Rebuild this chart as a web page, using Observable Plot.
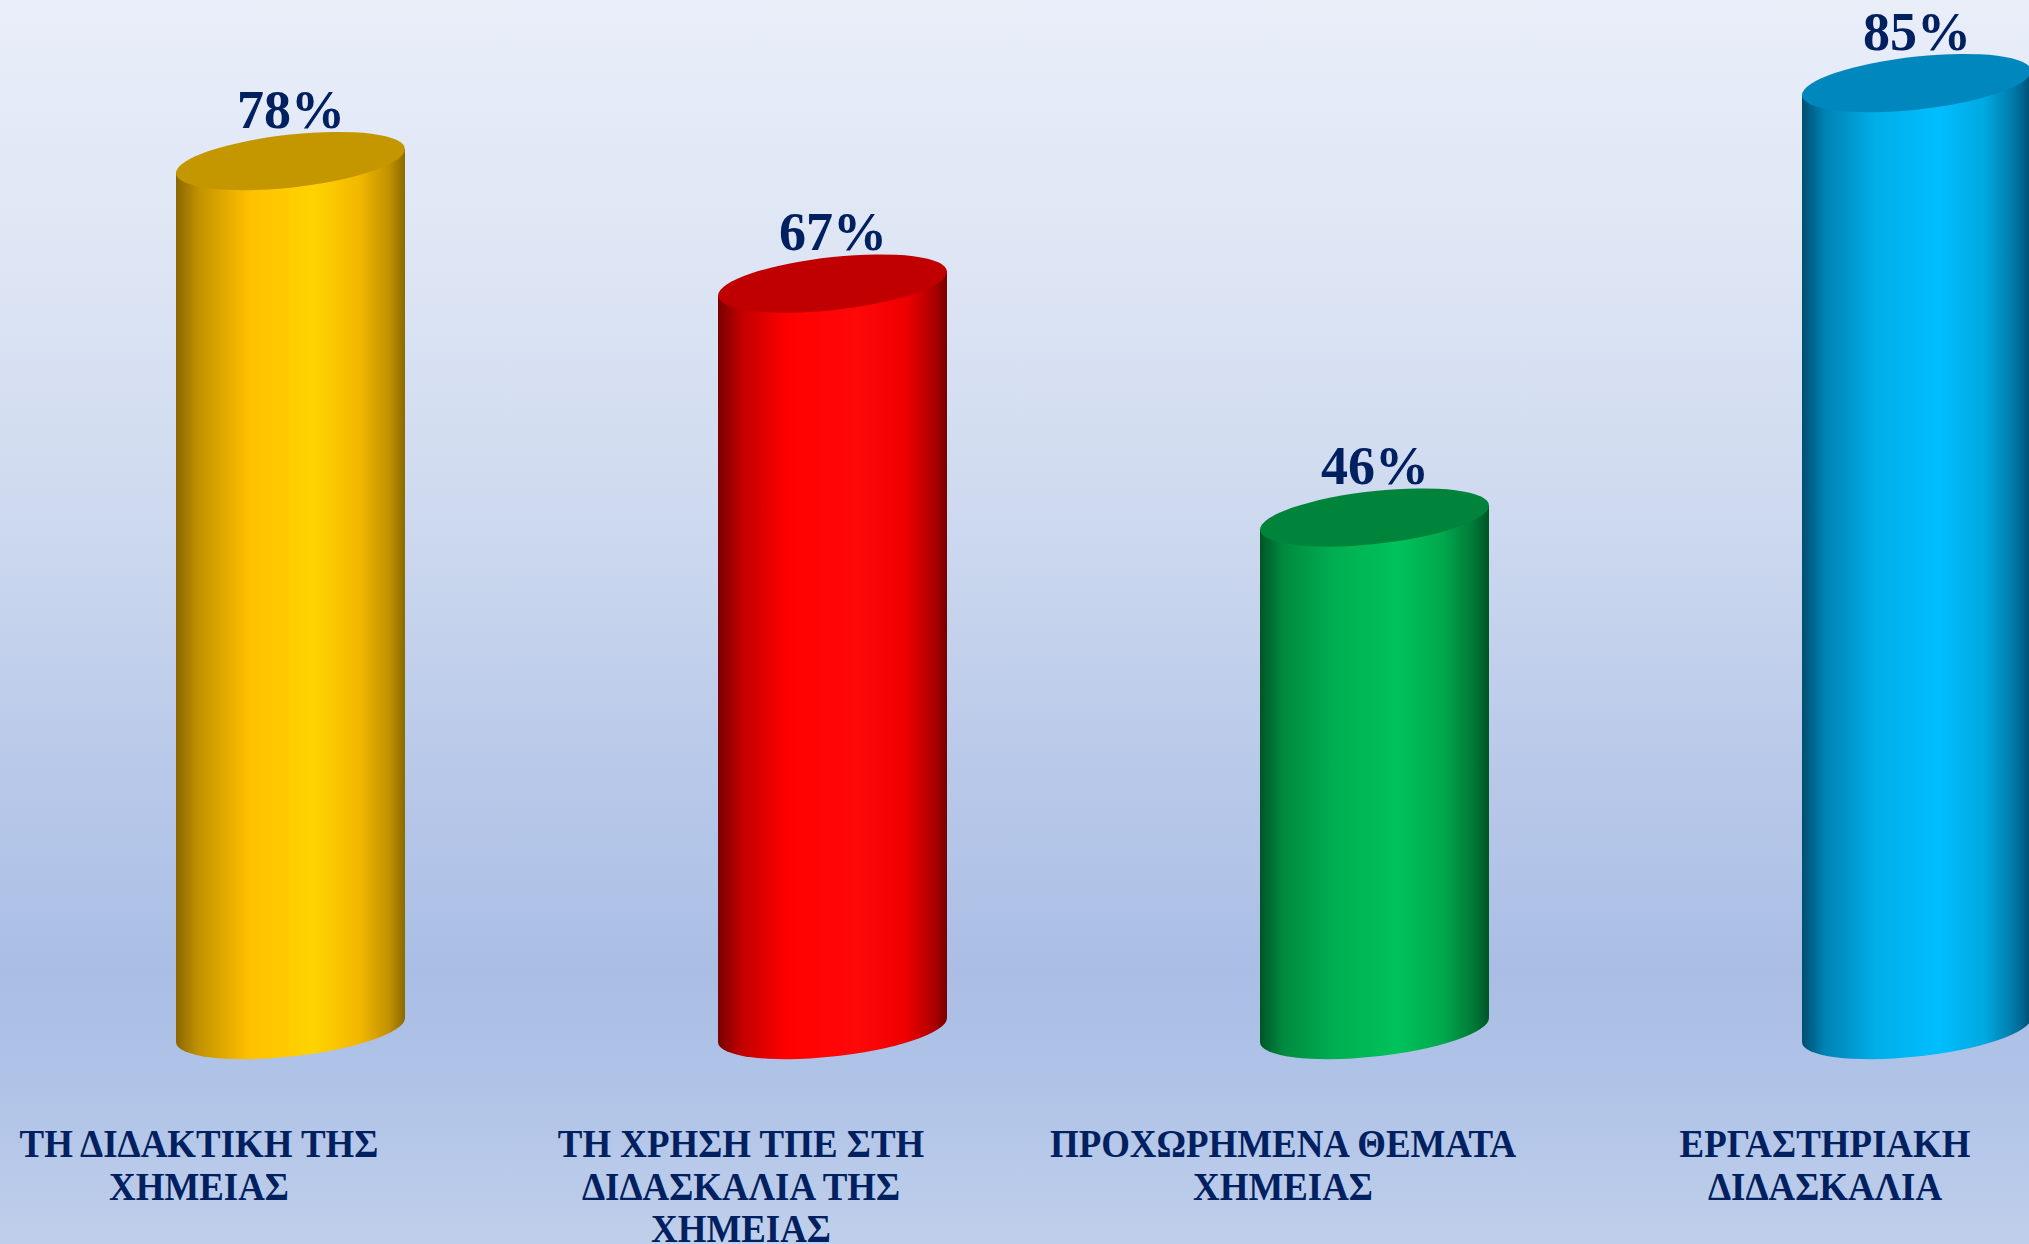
<!DOCTYPE html>
<html><head><meta charset="utf-8">
<script src="https://cdn.jsdelivr.net/npm/d3@7"></script>
<script src="https://cdn.jsdelivr.net/npm/@observablehq/plot@0.6"></script>
<style>
html,body{margin:0;padding:0;}
body{width:2029px;height:1244px;overflow:hidden;background:linear-gradient(to bottom,#E9EEF9 0%,#DDE5F4 22%,#CDD9EF 42%,#BACAE9 60%,#AABEE5 78%,#AFC2E7 86%,#BFCFEB 100%);}
#chart svg{display:block;}
</style></head><body><div id="chart"></div>
<script>
const categories = [
  "ΤΗ ΔΙΔΑΚΤΙΚΗ ΤΗΣ\nΧΗΜΕΙΑΣ",
  "ΤΗ ΧΡΗΣΗ ΤΠΕ ΣΤΗ\nΔΙΔΑΣΚΑΛΙΑ ΤΗΣ\nΧΗΜΕΙΑΣ",
  "ΠΡΟΧΩΡΗΜΕΝΑ ΘΕΜΑΤΑ\nΧΗΜΕΙΑΣ",
  "ΕΡΓΑΣΤΗΡΙΑΚΗ\nΔΙΔΑΣΚΑΛΙΑ"
];
const values = [78, 67, 46, 85];
const valueLabels = ["78%", "67%", "46%", "85%"];

// cylinder shading: [offset, colour] stops per bar, plus top-cap colour
const bodyStops = [
  [[0,"#8A6800"],[0.1,"#C29200"],[0.32,"#FFC000"],[0.6,"#FFD300"],[0.8,"#F2B800"],[0.93,"#C29100"],[1,"#8A6A00"]],
  [[0,"#780000"],[0.1,"#C00000"],[0.3,"#FF0000"],[0.6,"#FF0808"],[0.82,"#EE0000"],[0.94,"#B00000"],[1,"#780000"]],
  [[0,"#005526"],[0.1,"#008A40"],[0.32,"#00AE50"],[0.6,"#00C25C"],[0.8,"#00A84C"],[0.93,"#007A37"],[1,"#005526"]],
  [[0,"#004E70"],[0.1,"#0082B4"],[0.32,"#00AEE8"],[0.6,"#00BEFF"],[0.8,"#00A8E0"],[0.93,"#0076A6"],[1,"#004E70"]]
];
const topColors = ["#C49600", "#C00000", "#00843C", "#0088BE"];

const data = categories.map((c, i) => ({cat: c, value: values[i], label: valueLabels[i], idx: i}));

const SVGNS = "http://www.w3.org/2000/svg";

function cylinders(index, scales, vals, dimensions, context, next) {
  const g = next(index, scales, vals, dimensions, context);
  const rects = Array.from(g.querySelectorAll("rect"));
  const defs = document.createElementNS(SVGNS, "defs");
  g.insertBefore(defs, g.firstChild);
  rects.forEach((r, k) => {
    const i = index[k];
    const x = +r.getAttribute("x"), w = +r.getAttribute("width");
    const y = +r.getAttribute("y"), h = +r.getAttribute("height");
    const rx = w / 2, ry = rx * 0.232, cx = x + rx;
    const yTop = y, yBot = y + h;
    const grad = document.createElementNS(SVGNS, "linearGradient");
    grad.setAttribute("id", "cylgrad" + i);
    grad.setAttribute("x1", "0"); grad.setAttribute("x2", "1");
    grad.setAttribute("y1", "0"); grad.setAttribute("y2", "0");
    for (const [o, c] of bodyStops[i]) {
      const s = document.createElementNS(SVGNS, "stop");
      s.setAttribute("offset", o); s.setAttribute("stop-color", c);
      grad.appendChild(s);
    }
    defs.appendChild(grad);
    const cyl = document.createElementNS(SVGNS, "g");
    cyl.setAttribute("transform", `translate(${cx},0) skewY(-6)`);
    const body = document.createElementNS(SVGNS, "path");
    body.setAttribute("d", `M${-rx},${yTop}L${-rx},${yBot}A${rx},${ry} 0 0 0 ${rx},${yBot}L${rx},${yTop}Z`);
    body.setAttribute("fill", `url(#cylgrad${i})`);
    const cap = document.createElementNS(SVGNS, "ellipse");
    cap.setAttribute("cx", 0); cap.setAttribute("cy", yTop);
    cap.setAttribute("rx", rx); cap.setAttribute("ry", ry);
    cap.setAttribute("fill", topColors[i]);
    cyl.appendChild(body); cyl.appendChild(cap);
    r.replaceWith(cyl);
  });
  return g;
}

const chart = Plot.plot({
  width: 2029,
  height: 1244,
  marginTop: 0,
  marginBottom: 214,
  marginLeft: 0,
  marginRight: 0,
  style: {background: "transparent", overflow: "visible"},
  x: {domain: categories, range: [-138, 2345], padding: 0.578, label: null},
  y: {domain: [0, 100], range: [1030, -84], axis: null},
  marks: [
    Plot.barY(data, {x: "cat", y: "value", fill: "#000", render: cylinders}),
    Plot.text(data, {x: "cat", y: "value", text: "label", dy: -51,
      fontSize: 54, fontWeight: "bold", fontFamily: "'Liberation Serif', 'Times New Roman', serif", fill: "#002060"}),
    Plot.axisX({tickSize: 0, tickPadding: 97, dx: -92, fontSize: 41,
      fontFamily: "'Liberation Serif', 'Times New Roman', serif", fontWeight: "bold", fill: "#002060", lineHeight: 1.03, label: null})
  ]
});
document.getElementById("chart").appendChild(chart);

// condense the category labels horizontally (narrow serif look)
chart.querySelectorAll('[aria-label="x-axis tick label"] text').forEach(t => {
  t.setAttribute("font-weight", "bold");
  const tr = t.getAttribute("transform") || "";
  t.setAttribute("transform", tr + " scale(0.9,1)");
});
</script>
</body></html>
